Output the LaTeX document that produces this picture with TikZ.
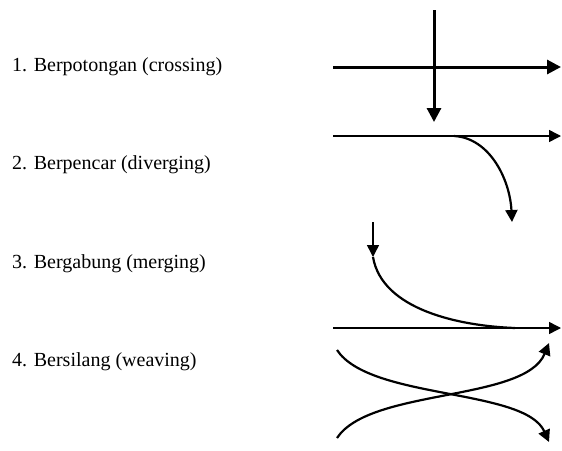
\documentclass[tikz,border=0pt]{standalone}
\usepackage{fontspec}
\setmainfont{Liberation Serif}
\usetikzlibrary{arrows.meta}

\begin{document}
\begin{tikzpicture}[
        x=1pt, y=-1pt,
        font=\fontsize{20}{24}\selectfont,
        >={Triangle[length=12pt, width=12pt]},
        lbl/.style={anchor=west, inner sep=0pt},
        lane/.style={->, line width=1.5pt},
        mainlane/.style={->, line width=3pt, >={Triangle[length=14pt, width=14pt]}},
        curvelane/.style={->, line width=2.2pt},
    ]
        \useasboundingbox (0,0) rectangle (562,450);

        % labels
        \node[lbl] (lcross) at (12,67)  {1. Berpotongan (crossing)};
        \node[lbl] (ldiv)   at (12,165) {2. Berpencar (diverging)};
        \node[lbl] (lmerge) at (12,264) {3. Bergabung (merging)};
        \node[lbl] (lweave) at (12,362) {4. Bersilang (weaving)};

        % crossing
        \coordinate (crossW) at (333,67);
        \coordinate (crossE) at (561,67);
        \coordinate (crossN) at (434,10);
        \coordinate (crossS) at (434,122);
        \draw[mainlane] (crossW) -- (crossE);
        \draw[mainlane] (crossN) -- (crossS);

        % diverging
        \coordinate (divW) at (333,136);
        \coordinate (divE) at (561,136);
        \coordinate (divA) at (454,136);
        \coordinate (divS) at (512,222);
        \draw[lane] (divW) -- (divE);
        \draw[curvelane] (divA) .. controls (490,138) and (510,180) .. (divS);

        % merging
        \coordinate (mergeN) at (373,222);
        \coordinate (mergeA) at (373,257);
        \coordinate (mergeB) at (515,328);
        \coordinate (mergeW) at (333,328);
        \coordinate (mergeE) at (561,328);
        \draw[lane] (mergeN) -- (mergeA);
        \draw[line width=2.2pt] (mergeA) .. controls (382,310) and (460,326) .. (mergeB);
        \draw[lane] (mergeW) -- (mergeE);

        % weaving
        \coordinate (weaveNW) at (337,350);
        \coordinate (weaveSE) at (549,442);
        \coordinate (weaveSW) at (337,438);
        \coordinate (weaveNE) at (549,343);
        \draw[curvelane] (weaveNW) .. controls (370,400) and (525,388) .. (weaveSE);
        \draw[curvelane] (weaveSW) .. controls (370,388) and (525,402) .. (weaveNE);
    \end{tikzpicture}
\end{document}
